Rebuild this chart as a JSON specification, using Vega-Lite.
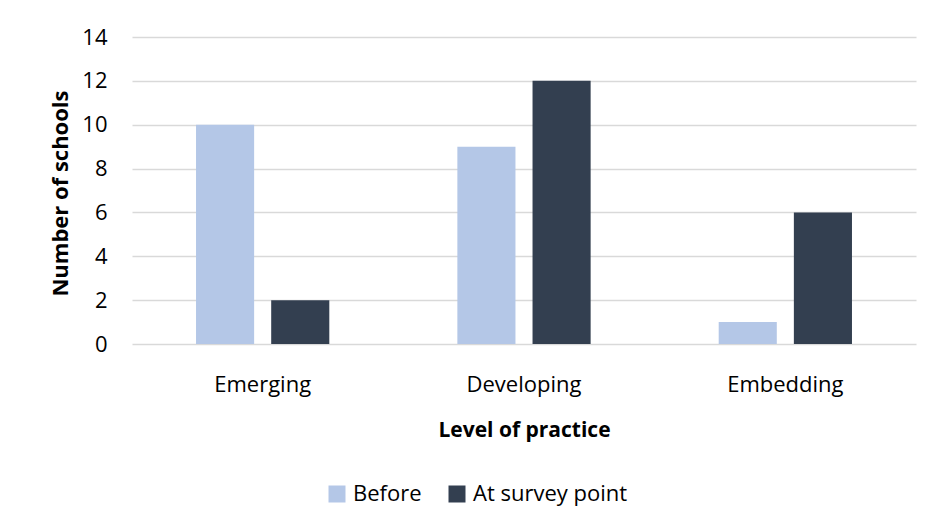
{
  "$schema": "https://vega.github.io/schema/vega-lite/v6.json",
  "width": 784,
  "height": 307,
  "autosize": {"type": "none"},
  "padding": {"left": 132, "top": 37, "right": 19, "bottom": 186},
  "background": "white",
  "config": {
    "view": {"stroke": null},
    "font": "Open Sans"
  },
  "data": {
    "values": [
      {"level": "Emerging", "period": "Before", "schools": 10},
      {"level": "Emerging", "period": "At survey point", "schools": 2},
      {"level": "Developing", "period": "Before", "schools": 9},
      {"level": "Developing", "period": "At survey point", "schools": 12},
      {"level": "Embedding", "period": "Before", "schools": 1},
      {"level": "Embedding", "period": "At survey point", "schools": 6}
    ]
  },
  "mark": {"type": "bar"},
  "encoding": {
    "x": {
      "field": "level",
      "type": "nominal",
      "sort": ["Emerging", "Developing", "Embedding"],
      "scale": {"paddingInner": 0.49, "paddingOuter": 0.245},
      "axis": {
        "title": "Level of practice",
        "titleFont": "Open Sans",
        "titleFontSize": 21,
        "titleFontWeight": "bold",
        "titleColor": "#000000",
        "titleBaseline": "alphabetic",
        "titleY": 92,
        "labelAngle": 0,
        "labelFont": "Open Sans",
        "labelFontSize": 22,
        "labelColor": "#000000",
        "labelBaseline": "alphabetic",
        "labelPadding": 47,
        "ticks": false,
        "tickSize": 0,
        "domain": false,
        "grid": false
      }
    },
    "xOffset": {
      "field": "period",
      "type": "nominal",
      "sort": ["Before", "At survey point"],
      "scale": {"paddingInner": 0.227, "paddingOuter": 0}
    },
    "y": {
      "field": "schools",
      "type": "quantitative",
      "scale": {"domain": [0, 14], "nice": false},
      "axis": {
        "title": "Number of schools",
        "titleFont": "Open Sans",
        "titleFontSize": 22,
        "titleFontWeight": "bold",
        "titleColor": "#000000",
        "titleAngle": -90,
        "titleBaseline": "alphabetic",
        "titleX": -65,
        "titleY": 156,
        "values": [0, 2, 4, 6, 8, 10, 12, 14],
        "labelFont": "Open Sans",
        "labelFontSize": 22,
        "labelColor": "#000000",
        "labelPadding": 25,
        "ticks": false,
        "tickSize": 0,
        "domain": false,
        "grid": true,
        "gridColor": "#d9d9d9",
        "gridWidth": 1.5
      }
    },
    "color": {
      "field": "period",
      "type": "nominal",
      "sort": ["Before", "At survey point"],
      "scale": {"domain": ["Before", "At survey point"], "range": ["#b4c7e7", "#333f50"]},
      "legend": {
        "title": null,
        "orient": "none",
        "direction": "horizontal",
        "legendX": 194,
        "legendY": 446,
        "symbolType": "square",
        "symbolSize": 289,
        "symbolStrokeWidth": 0,
        "labelFont": "Open Sans",
        "labelFontSize": 22,
        "labelColor": "#000000",
        "labelOffset": 5,
        "columnPadding": 24
      }
    }
  }
}
